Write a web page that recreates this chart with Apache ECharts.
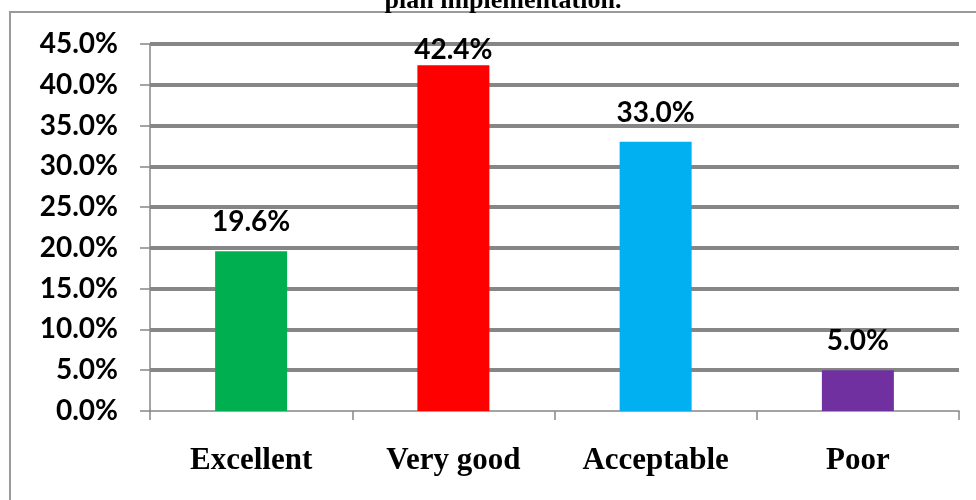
<!DOCTYPE html>
<html>
<head>
<meta charset="utf-8">
<script src="https://cdn.jsdelivr.net/npm/echarts@6/dist/echarts.min.js"></script>
<style>html,body{margin:0;padding:0;background:#fff;}#c{width:976px;height:500px;}</style>
</head>
<body>
<div id="c"></div>
<script>
var categories = ['Excellent', 'Very good', 'Acceptable', 'Poor'];
var values = [19.6, 42.4, 33.0, 5.0];
var barColors = ['#00B050', '#FF0000', '#00B0F0', '#7030A0'];
var titleText = 'plan implementation.';

var labelFont = 'Lato, "Open Sans", sans-serif';
var chart = echarts.init(document.getElementById('c'), null, {renderer: 'canvas'});
chart.setOption({
  animation: false,
  backgroundColor: '#fff',
  graphic: [
    {type: 'rect', shape: {x: 10, y: 12, width: 1000, height: 600}, style: {fill: 'none', stroke: '#9a9a9a', lineWidth: 2}, z: 0, silent: true},
    {type: 'text', x: 503, y: 14, style: {text: titleText, font: 'bold 26px "Liberation Serif", "Times New Roman", serif', fill: '#000', textAlign: 'center', textVerticalAlign: 'bottom'}, z: 10}
  ],
  grid: {left: 150, right: 17, top: 44, bottom: 89},
  xAxis: {
    type: 'category',
    data: categories,
    axisLine: {lineStyle: {color: '#868686', width: 1.5}},
    axisTick: {show: true, length: 9, lineStyle: {color: '#868686', width: 1.5}},
    axisLabel: {margin: 34, color: '#000', fontFamily: '"Liberation Serif", "Times New Roman", serif', fontWeight: 'bold', fontSize: 31}
  },
  yAxis: {
    type: 'value',
    min: 0, max: 45, interval: 5,
    axisLine: {show: true, lineStyle: {color: '#868686', width: 1.5}},
    axisTick: {show: true, length: 10, lineStyle: {color: '#868686', width: 1.5}},
    axisLabel: {margin: 32, color: '#000', fontFamily: labelFont, fontWeight: 'bold', fontSize: 28,
      formatter: function (v) { return v.toFixed(1) + '%'; }},
    splitLine: {show: true, showMinLine: false, lineStyle: {color: '#868686', width: 4}}
  },
  series: [{
    type: 'bar',
    data: values.map(function (v, i) {
      var item = {value: v, itemStyle: {color: barColors[i]}};
      if (v > 40) { item.label = {distance: 1}; }
      return item;
    }),
    barWidth: 72,
    label: {show: true, position: 'top', distance: 15, color: '#000', fontFamily: labelFont, fontWeight: 'bold', fontSize: 28,
      formatter: function (p) { return p.value.toFixed(1) + '%'; }}
  }]
});
</script>
</body>
</html>
